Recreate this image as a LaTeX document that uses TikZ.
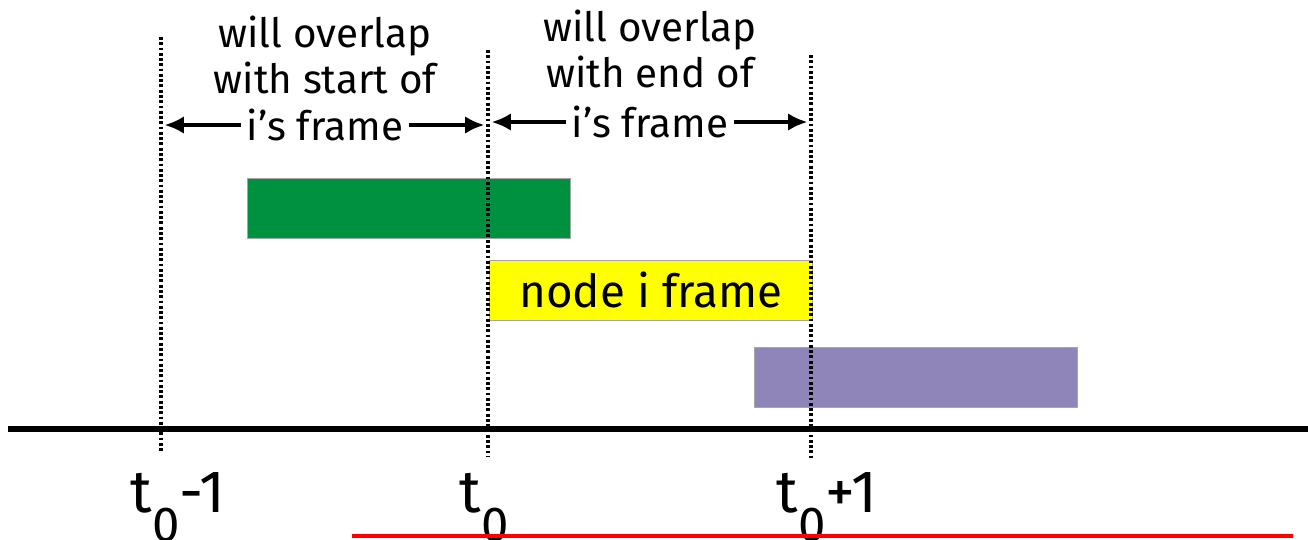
\documentclass[tikz,border=0pt]{standalone}
\usepackage{fontspec}
\setmainfont{Fira Sans}
\usetikzlibrary{positioning,arrows.meta}

\definecolor{framegreen}{RGB}{0,145,64}
\definecolor{frameyellow}{RGB}{255,255,0}
\definecolor{framepurple}{RGB}{144,133,184}

\tikzset{
  framebox/.style={draw=black!35, minimum width=6.46cm, minimum height=1.2cm, inner sep=0pt},
  boundary/.style={line width=1.8pt, dash pattern=on 1.6pt off 1.4pt},
  note/.style={align=center, font=\fontsize{23}{26.5}\selectfont},
  span/.style={line width=2.2pt, -{Latex[length=11pt,width=10pt]}},
  tick/.style={font=\fontsize{34}{36}\selectfont, anchor=base}
}

\newcommand{\tsub}[1]{t\raisebox{-0.5em}{\fontsize{28}{30}\selectfont 0}#1}

\begin{document}
\begin{tikzpicture}[x=0.02cm, y=-0.02cm]
\useasboundingbox (0,0) rectangle (1308,539);

% frame boundaries
\coordinate (d1top) at (161,37);  \coordinate (d1bot) at (161,452);
\coordinate (d2top) at (488,50);  \coordinate (d2bot) at (488,456);
\coordinate (d3top) at (811,55);  \coordinate (d3bot) at (811,460);

% frames
\node [framebox, fill=framegreen] (green) at (408.5,208) {};
\node [framebox, fill=frameyellow, font=\fontsize{26}{28}\selectfont] (own) at (651,290) {node i frame};
\node [framebox, fill=framepurple] (purple) at (915.5,377) {};

\draw [boundary] (d1top) -- (d1bot);
\draw [boundary] (d2top) -- (d2bot);
\draw [boundary] (d3top) -- (d3bot);

% time axis
\coordinate (axl) at (8,429);
\coordinate (axr) at (1308,429);
\draw [line width=3.4pt] (axl) -- (axr);

% labels
\node [note] (startnote) at (325,55) {will overlap\\with start of};
\node [note] (startspan) at (325,125) {i’s frame};
\node [note] (endnote) at (650,49) {will overlap\\with end of};
\node [note] (endspan) at (650,122) {i’s frame};

\draw [span] (startspan.west) -- ([xshift=2pt]startspan.west -| d1top);
\draw [span] (startspan.east) -- ([xshift=-2pt]startspan.east -| d2top);
\draw [span] (endspan.west) -- ([xshift=2pt]endspan.west -| d2top);
\draw [span] (endspan.east) -- ([xshift=-2pt]endspan.east -| d3top);

\node [tick] (tminus) at (178,512) {\tsub{-1}};
\node [tick] (tzero) at (484,512) {\tsub{}};
\node [tick] (tplus) at (827,512) {\tsub{+1}};

% underline
\coordinate (redl) at (352,536);
\coordinate (redr) at (1293,536);
\draw [red, line width=2.2pt] (redl) -- (redr);
\end{tikzpicture}
\end{document}
